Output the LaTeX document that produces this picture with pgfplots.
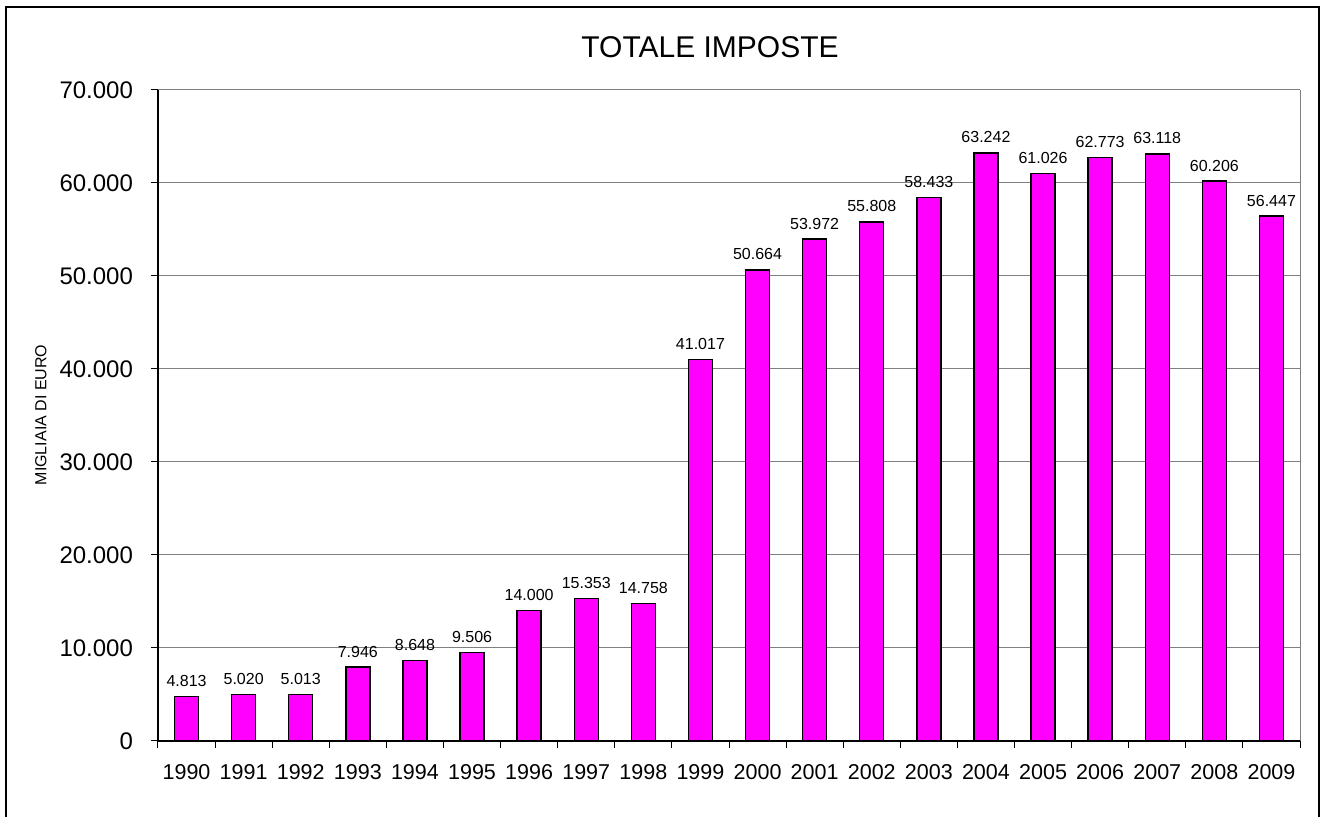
\documentclass[border=0pt]{standalone}
\usepackage{pgfplots}
\pgfplotsset{compat=1.18}
\usepackage{fontspec}
\setmainfont{Liberation Sans}
\definecolor{barmag}{RGB}{255,0,255}
\definecolor{gridgray}{RGB}{128,128,128}
\begin{document}
\begin{tikzpicture}
\path[use as bounding box] (-79pt,-38.5pt) rectangle (584.5pt,370.5pt);
\draw[black, line width=0.7pt] (-76pt,-38pt) -- (-76pt,367pt) -- (580.5pt,367pt) -- (580.5pt,-38pt);
\begin{axis}[
  at={(0pt,0pt)}, anchor=south west,
  width=571pt, height=325.5pt, scale only axis,
  xmin=-0.5, xmax=19.5, ymin=0, ymax=70000,
  ybar, bar width=12pt,
  axis x line*=bottom, axis y line*=left,
  axis line style={black, line width=0.6pt},
  xtick={0,...,19},
  xticklabels={1990,1991,1992,1993,1994,1995,1996,1997,1998,1999,2000,2001,2002,2003,2004,2005,2006,2007,2008,2009},
  minor xtick={-0.5,0.5,...,19.5},
  major x tick style={draw=none},
  minor x tick style={black, line width=0.5pt},
  minor tick length=3.5pt,
  ytick={0,10000,...,70000},
  major y tick style={black, line width=0.5pt},
  major tick length=3.5pt,
  tick align=outside,
  ymajorgrids, grid style={gridgray, line width=0.5pt},
  /pgf/number format/.cd, 1000 sep={.}, assume math mode=true,
  /pgfplots/.cd,
  scaled y ticks=false,
  yticklabel style={font=\fontsize{12}{14}\selectfont, anchor=east, xshift=-5.5pt},
  xticklabel style={font=\fontsize{10.75}{12}\selectfont, anchor=base, yshift=-16pt},
  nodes near coords,
  every node near coord/.append style={font=\fontsize{8}{9}\selectfont, anchor=base, yshift=5pt, black},
  clip=false,
]
\addplot[fill=barmag, draw=black, line width=0.7pt] coordinates {
(0,4813) (1,5020) (2,5013) (3,7946) (4,8648) (5,9506) (6,14000) (7,15353) (8,14758) (9,41017)
(10,50664) (11,53972) (12,55808) (13,58433) (14,63242) (15,61026) (16,62773) (17,63118) (18,60206) (19,56447)
};
\draw[gridgray, line width=0.5pt] (rel axis cs:1,0) -- (rel axis cs:1,1);
\end{axis}
\node[font=\fontsize{15}{18}\selectfont] at (276pt,346.75pt) {TOTALE IMPOSTE};
\node[font=\fontsize{8}{10}\selectfont, rotate=90] at (-58.6pt,163pt) {MIGLIAIA DI EURO};
\end{tikzpicture}
\end{document}
